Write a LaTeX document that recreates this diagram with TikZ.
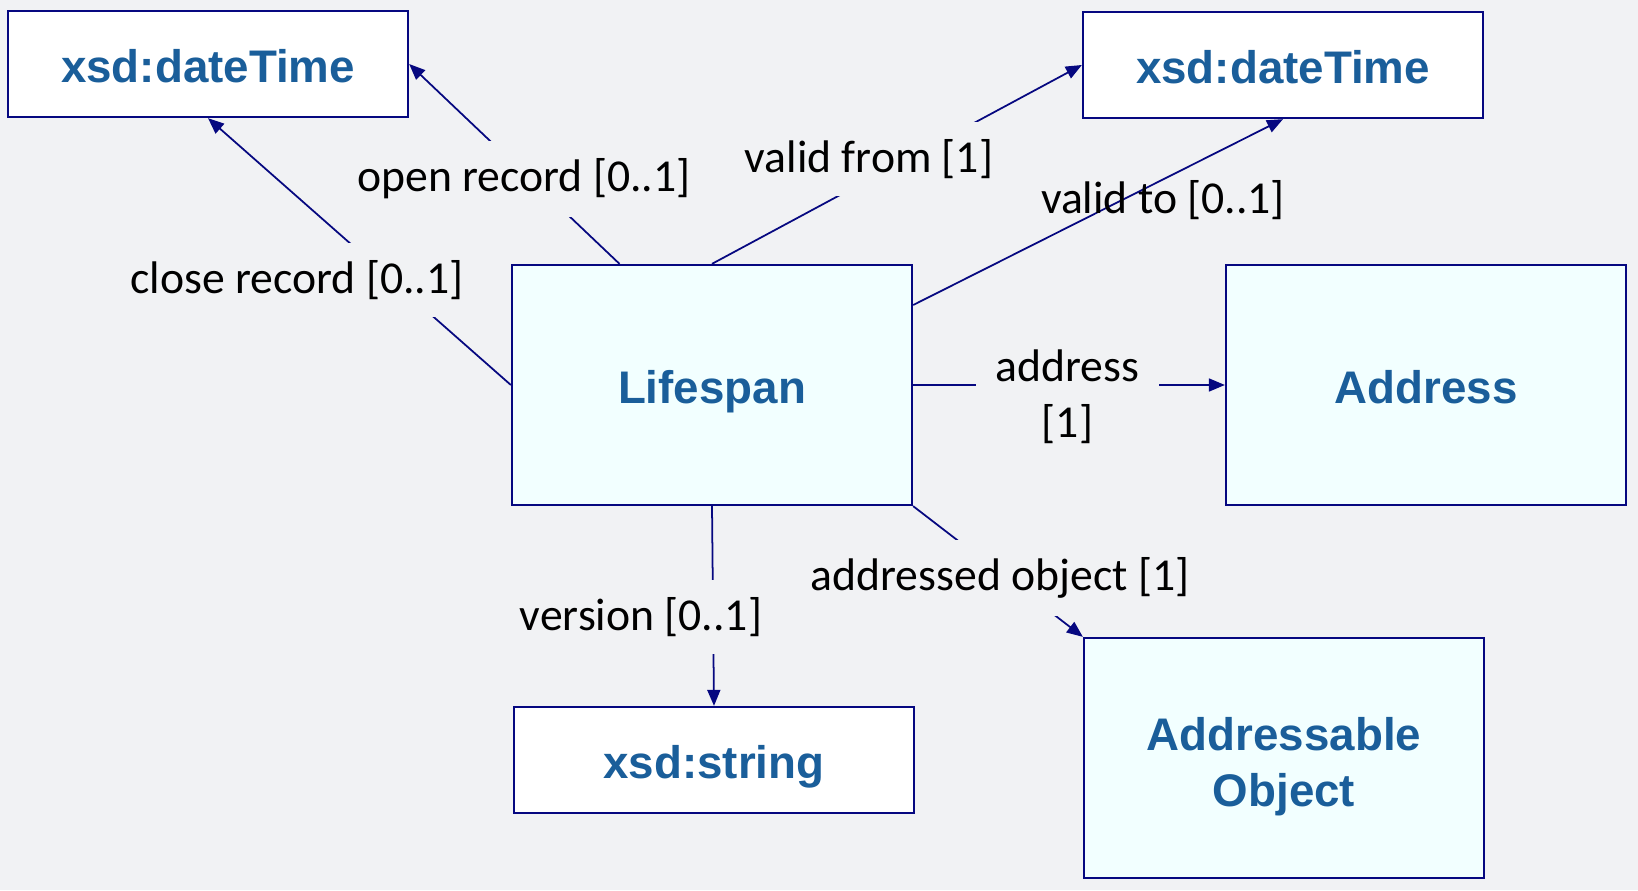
\documentclass[tikz,border=0pt]{standalone}
\usepackage{fontspec}
\setmainfont{Carlito}
\newfontfamily\boxfont{Liberation Sans}
\usetikzlibrary{arrows.meta,calc}

\definecolor{bggray}{RGB}{241,242,244}
\definecolor{umlnavy}{RGB}{6,8,128}
\definecolor{umlblue}{RGB}{26,94,154}
\definecolor{classfill}{RGB}{242,255,255}

\begin{document}
\begin{tikzpicture}[
    datatype/.style={rectangle, draw=umlnavy, fill=white, line width=1.3pt, minimum width=8cm, minimum height=2.12cm, inner sep=0pt, text=umlblue, font=\boxfont\bfseries\fontsize{26}{32}\selectfont, align=center, text height=20.6pt, text depth=0pt},
    class/.style={datatype, fill=classfill, minimum height=4.8cm},
    role/.style={font=\fontsize{26}{32}\selectfont, align=center, fill=bggray, inner xsep=0.4cm, inner ysep=0.35cm},
    link/.style={draw=umlnavy, line width=1pt, -{Triangle[length=3.2mm,width=2.6mm]}}
]
\fill[bggray] (0,0) rectangle (32.76,17.8);
\useasboundingbox (0,0) rectangle (32.76,17.8);

% Classes
\node[class] (lifespan) at (14.24,10.1) {Lifespan};
\node[class] (address) at (28.52,10.1) {Address};
\node[class, text height=, text depth=] (addr_object) at (25.68,2.64) {\rule{0pt}{1.1em}Addressable\\Object};

% Datatypes
\node[datatype] (datetime_rec) at (4.16,16.52) {xsd:dateTime};
\node[datatype] (datetime_valid) at (25.66,16.5) {xsd:dateTime};
\node[datatype] (xsd_string) at (14.28,2.6) {xsd:string};

% Properties
\draw[link] (lifespan.west) -- (datetime_rec.south);
\draw[link] ($(lifespan.north west)!0.27!(lifespan.north east)$) -- (datetime_rec.east);
\draw[link] (lifespan.north) -- (datetime_valid.west);
\draw[link] ($(lifespan.north east)!0.17!(lifespan.south east)$) -- (datetime_valid.south);
\draw[link] (lifespan.east) -- (address.west);
\draw[link] (lifespan.south east) -- (addr_object.north west);
\draw[link] (lifespan.south) -- (xsd_string.north);

% Property names
\node[role] (lbl_close) at (5.94,12.2) {close record [0..1]};
\node[role] (lbl_open) at (10.48,14.22) {open record [0..1]};
\node[role] (lbl_from) at (17.38,14.62) {valid from [1]};
\node[role, fill=none] (lbl_to) at (23.26,13.8) {valid to [0..1]};
\node[role] (lbl_address) at (21.35,9.86) {address\\{}[1]};
\node[role] (lbl_object) at (20.0,6.24) {addressed object [1]};
\node[role] (lbl_version) at (12.82,5.46) {version [0..1]};

\end{tikzpicture}
\end{document}
